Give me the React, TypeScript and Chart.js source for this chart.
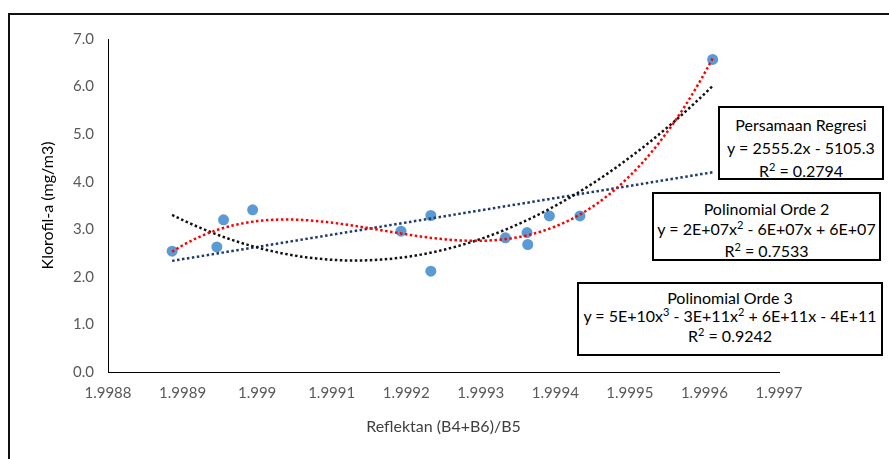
import React, { useEffect, useRef } from "react";
import { Chart, registerables } from "chart.js";

Chart.register(...registerables);

// Reflectance ratio (B4+B6)/B5
const reflectance = [
  1.998886, 1.998946, 1.998955, 1.998994, 1.999193, 1.999233, 1.999233,
  1.999333, 1.999362, 1.999363, 1.999392, 1.999433, 1.999611,
];
// Chlorophyll-a (mg/m3)
const chlorophyll = [
  2.54, 2.63, 3.2, 3.41, 2.96, 3.29, 2.12, 2.82, 2.93, 2.68, 3.28, 3.28, 6.57,
];

const xTickValues = [
  1.9988, 1.9989, 1.999, 1.9991, 1.9992, 1.9993, 1.9994, 1.9995, 1.9996, 1.9997,
];
const xTickLabels = [
  "1.9988", "1.9989", "1.999", "1.9991", "1.9992", "1.9993", "1.9994", "1.9995", "1.9996", "1.9997",
];
const yTickValues = [0, 1, 2, 3, 4, 5, 6, 7];
const yTickLabels = ["0.0", "1.0", "2.0", "3.0", "4.0", "5.0", "6.0", "7.0"];

const xTitle = "Reflektan (B4+B6)/B5";
const yTitle = "Klorofil-a (mg/m3)";

// segments: [text, superscript?]
const boxLinear: [string, boolean][][] = [
  [["Persamaan Regresi", false]],
  [["y = 2555.2x - 5105.3", false]],
  [["R", false], ["2", true], [" = 0.2794", false]],
];
const boxPoly2: [string, boolean][][] = [
  [["Polinomial Orde 2", false]],
  [["y = 2E+07x", false], ["2", true], [" - 6E+07x + 6E+07", false]],
  [["R", false], ["2", true], [" = 0.7533", false]],
];
const boxPoly3: [string, boolean][][] = [
  [["Polinomial Orde 3", false]],
  [["y = 5E+10x", false], ["3", true], [" - 3E+11x", false], ["2", true], [" + 6E+11x - 4E+11", false]],
  [["R", false], ["2", true], [" = 0.9242", false]],
];

const FONT = "Lato, 'Open Sans', sans-serif";

// least-squares polynomial fit of the data (like a spreadsheet trendline)
function polyFit(xs: number[], ys: number[], deg: number) {
  const mx = xs.reduce((a, b) => a + b, 0) / xs.length;
  const s = 10000;
  const u = xs.map((x) => (x - mx) * s);
  const n = deg + 1;
  const A: number[][] = Array.from({ length: n }, () => new Array(n + 1).fill(0));
  for (let k = 0; k < u.length; k++) {
    for (let i = 0; i < n; i++) {
      for (let j = 0; j < n; j++) A[i][j] += Math.pow(u[k], i + j);
      A[i][n] += ys[k] * Math.pow(u[k], i);
    }
  }
  for (let c = 0; c < n; c++) {
    let p = c;
    for (let r = c + 1; r < n; r++) if (Math.abs(A[r][c]) > Math.abs(A[p][c])) p = r;
    [A[c], A[p]] = [A[p], A[c]];
    for (let r = 0; r < n; r++) {
      if (r === c) continue;
      const f = A[r][c] / A[c][c];
      for (let j = c; j <= n; j++) A[r][j] -= f * A[c][j];
    }
  }
  const coef = A.map((row, i) => row[n] / row[i]);
  return (x: number) => {
    const t = (x - mx) * s;
    let y = 0;
    for (let i = n - 1; i >= 0; i--) y = y * t + coef[i];
    return y;
  };
}

function trend(deg: number) {
  const f = polyFit(reflectance, chlorophyll, deg);
  const lo = Math.min(...reflectance);
  const hi = Math.max(...reflectance);
  const pts: { x: number; y: number }[] = [];
  const N = 150;
  for (let i = 0; i <= N; i++) {
    const x = lo + ((hi - lo) * i) / N;
    pts.push({ x, y: f(x) });
  }
  return pts;
}

function Box({ lines, left, top, width, height, lh, pt }: any) {
  return (
    <div
      style={{
        position: "absolute",
        left,
        top,
        width,
        height,
        boxSizing: "border-box",
        border: "2px solid #000",
        background: "#fff",
        fontFamily: FONT,
        fontSize: 16,
        color: "#000",
        textAlign: "center",
        paddingTop: pt,
        lineHeight: lh + "px",
        whiteSpace: "nowrap",
      }}
    >
      {lines.map((segs: [string, boolean][], i: number) => (
        <div key={i}>
          {segs.map(([t, sup], j) =>
            sup ? (
              <span key={j} style={{ fontSize: 11, position: "relative", top: -6 }}>
                {t}
              </span>
            ) : (
              <span key={j}>{t}</span>
            )
          )}
        </div>
      ))}
    </div>
  );
}

export default function App() {
  const ref = useRef<HTMLCanvasElement>(null);

  useEffect(() => {
    if (!ref.current) return;
    const dotted = {
      type: "line",
      borderWidth: 2.5,
      borderDash: [2.5, 2.5],
      pointRadius: 0,
      fill: false,
      tension: 0,
    };
    const chart = new Chart(ref.current, {
      type: "scatter",
      data: {
        datasets: [
          { ...dotted, data: trend(1), borderColor: "#1F3A6E", order: 3 } as any,
          { ...dotted, data: trend(2), borderColor: "#111111", order: 2 } as any,
          { ...dotted, data: trend(3), borderColor: "#FF0000", order: 1 } as any,
          {
            data: reflectance.map((x, i) => ({ x, y: chlorophyll[i] })),
            backgroundColor: "#5B9BD5",
            borderColor: "#5B9BD5",
            pointRadius: 5.5,
            borderWidth: 0,
            order: 10,
          },
        ],
      },
      options: {
        animation: false,
        responsive: false,
        maintainAspectRatio: false,
        layout: { padding: { left: 34, right: 110, top: 39, bottom: 19 } },
        plugins: { legend: { display: false }, tooltip: { enabled: false } },
        scales: {
          x: {
            type: "linear",
            min: 1.9988,
            max: 1.9997,
            afterBuildTicks: (scale: any) => {
              scale.ticks = xTickValues.map((v) => ({ value: v }));
            },
            afterFit: (scale: any) => {
              scale.height = 68;
            },
            grid: { display: false, drawTicks: false },
            border: { display: true, color: "#000", width: 1 },
            ticks: {
              padding: 12,
              color: "#595959",
              font: { family: FONT, size: 15 },
              maxRotation: 0,
              autoSkip: false,
              callback: (_v: any, i: number) => xTickLabels[i],
            },
            title: {
              display: true,
              text: xTitle,
              color: "#404040",
              font: { family: FONT, size: 16 },
            },
          },
          y: {
            type: "linear",
            min: 0,
            max: 7,
            afterBuildTicks: (scale: any) => {
              scale.ticks = yTickValues.map((v) => ({ value: v }));
            },
            afterFit: (scale: any) => {
              scale.width = 74;
            },
            grid: { display: false, drawTicks: false },
            border: { display: true, color: "#000", width: 1 },
            ticks: {
              padding: 14,
              color: "#595959",
              font: { family: FONT, size: 15 },
              callback: (_v: any, i: number) => yTickLabels[i],
            },
            title: {
              display: true,
              text: yTitle,
              color: "#000",
              font: { family: FONT, size: 16 },
            },
          },
        },
      } as any,
    });
    return () => chart.destroy();
  }, []);

  return (
    <div style={{ position: "fixed", left: 0, top: 0, width: 889, height: 459, overflow: "hidden", background: "#fff" }}>
      <div
        style={{
          position: "absolute",
          left: 8,
          top: 13,
          width: 950,
          height: 500,
          borderTop: "2.5px solid #111",
          borderLeft: "2.5px solid #111",
        }}
      />
      <canvas ref={ref} width={889} height={459} style={{ position: "absolute", left: 0, top: 0, display: "block" }} />
      <Box lines={boxLinear} left={718} top={106} width={166} height={74} lh={23} pt={5} />
      <Box lines={boxPoly2} left={652} top={192} width={229} height={69} lh={20} pt={5} />
      <Box lines={boxPoly3} left={577} top={282} width={306} height={74} lh={18} pt={5} />
    </div>
  );
}
